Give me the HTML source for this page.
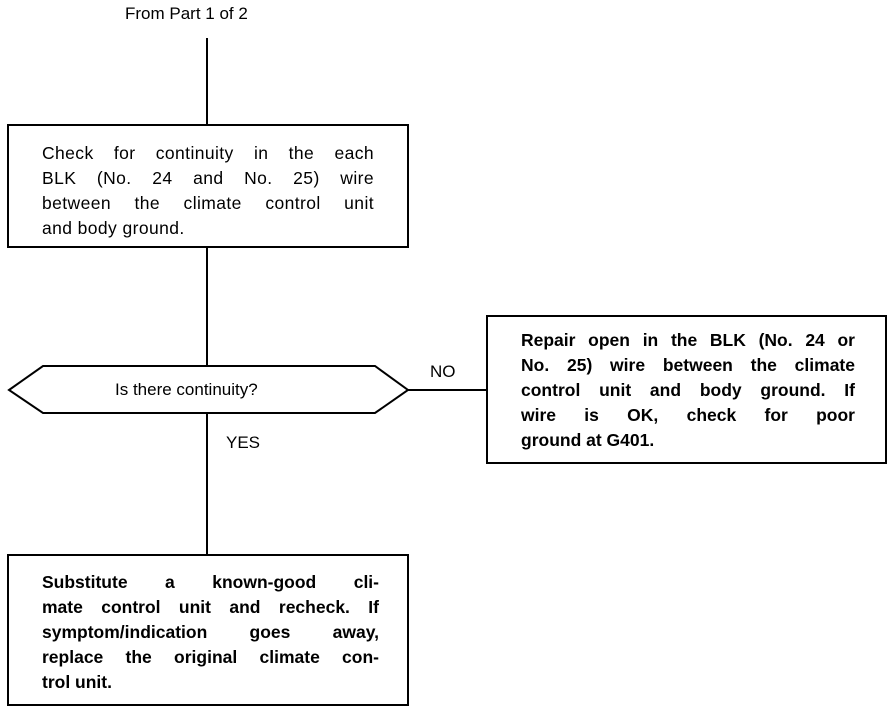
<!DOCTYPE html>
<html><head><meta charset="utf-8"><style>
body{margin:0;width:896px;height:710px;background:#fff;position:relative;font-family:"Liberation Sans",sans-serif;color:#000;overflow:hidden}
.t{position:absolute;font-size:17.5px;line-height:25px}
.t div{text-align:justify;text-align-last:justify;white-space:nowrap}
.t div.e{text-align-last:left}
.l{position:absolute;font-size:17px}
.b{font-weight:bold}
</style></head><body>
<svg width="896" height="710" style="position:absolute;left:0;top:0" fill="none" stroke="#000" stroke-width="2">
<line x1="207" y1="38" x2="207" y2="125"/>
<rect x="8" y="125" width="400" height="122"/>
<line x1="207" y1="247" x2="207" y2="366"/>
<polygon points="9,390 43,366 375,366 408,390 375,413 43,413"/>
<line x1="207" y1="413" x2="207" y2="555"/>
<line x1="408" y1="390" x2="487" y2="390"/>
<rect x="487" y="316" width="399" height="147"/>
<rect x="8" y="555" width="400" height="150"/>
</svg>
<div class="l" style="left:125px;top:4px">From Part 1 of 2</div>
<div class="t" style="left:42px;top:141px;width:332px;letter-spacing:0.4px">
<div>Check for continuity in the each</div>
<div>BLK (No. 24 and No. 25) wire</div>
<div>between the climate control unit</div>
<div class="e">and body ground.</div>
</div>
<div class="l" style="left:115px;top:380px">Is there continuity?</div>
<div class="l" style="left:430px;top:362px">NO</div>
<div class="l" style="left:226px;top:433px">YES</div>
<div class="t b" style="left:521px;top:328px;width:334px">
<div>Repair open in the BLK (No. 24 or</div>
<div>No. 25) wire between the climate</div>
<div>control unit and body ground. If</div>
<div>wire is OK, check for poor</div>
<div class="e">ground at G401.</div>
</div>
<div class="t b" style="left:42px;top:570px;width:337px">
<div>Substitute a known-good cli-</div>
<div>mate control unit and recheck. If</div>
<div>symptom/indication goes away,</div>
<div>replace the original climate con-</div>
<div class="e">trol unit.</div>
</div>
</body></html>
